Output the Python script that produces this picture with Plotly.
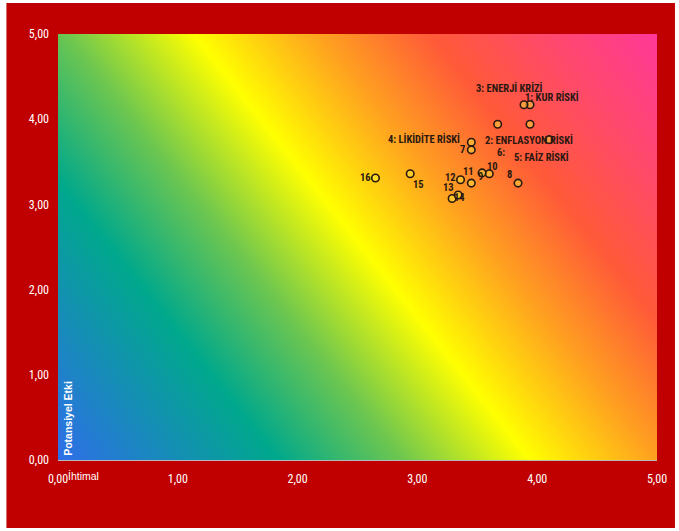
import plotly.graph_objects as go

# ---- data ----
risk_ids = [str(i) for i in range(1, 17)]
label_texts = ["1: KUR RİSKİ", "2: ENFLASYON RİSKİ", "3: ENERJİ KRİZİ", "4: LİKİDİTE RİSKİ",
               "5: FAİZ RİSKİ", "6:", "7", "8", "9", "10", "11", "12", "13", "14", "15", "16"]
ihtimal = [3.94, 4.10, 3.89, 3.45, 3.94, 3.67, 3.45, 3.84, 3.54, 3.60, 3.45, 3.36, 3.29, 3.34, 2.94, 2.65]
etki = [4.17, 3.76, 4.17, 3.73, 3.94, 3.94, 3.64, 3.25, 3.37, 3.36, 3.25, 3.29, 3.07, 3.11, 3.36, 3.31]
tick_values = [0, 1, 2, 3, 4, 5]
tick_labels = ["0,00", "1,00", "2,00", "3,00", "4,00", "5,00"]

# ---- styling ----
label_offsets = [(22, -8), (-20, 0), (-15, -17), (-47, -3), (11, 33), (3, 28), (-9, 0), (-9, -9),
                 (-2, 4), (3, -7), (-3, -12), (-10, -2), (-4, -11), (1, 2), (8, 11), (-10, 0)]
BG_CORNERS = [[0.0, 0.64], [0.36, 1.0]]
BG_SCALE = [[0.0, "#2f6ee8"], [0.236, "#00a88c"], [0.367, "#6cc650"], [0.505, "#ffff00"],
            [0.57, "#ffd010"], [0.64, "#ffa020"], [0.757, "#ff5a38"], [0.87, "#ff4a68"],
            [1.0, "#ff3898"]]
RED = "#c00000"
LBL_COLOR = "#2a1810"
NARROW = "Liberation Sans Narrow, Arial Narrow, Roboto Condensed, DejaVu Sans Condensed, sans-serif"

fig = go.Figure()
fig.add_trace(go.Heatmap(x=[0, 5], y=[0, 5], z=BG_CORNERS, colorscale=BG_SCALE, zmin=0, zmax=1,
                         zsmooth="best", showscale=False, hoverinfo="skip"))
fig.add_trace(go.Scatter(x=ihtimal, y=etki, mode="markers", text=risk_ids,
                         marker=dict(symbol="circle", size=7.5, color="rgba(255,245,60,0.45)",
                                     line=dict(color="#2a1810", width=1.6)),
                         hoverinfo="text"))

for xv, yv, t, (dx, dy) in zip(ihtimal, etki, label_texts, label_offsets):
    fig.add_annotation(x=xv, y=yv, text=t, showarrow=False, xshift=dx, yshift=-dy,
                       xanchor="center", yanchor="middle",
                       font=dict(family=NARROW, size=10.5, color=LBL_COLOR, weight="bold"))

fig.add_shape(type="rect", xref="paper", yref="paper", x0=-0.0861, x1=1.03, y0=-0.1596, y1=1.0728,
              fillcolor=RED, line=dict(width=0), layer="below")

fig.add_annotation(xref="paper", yref="paper", x=0.0175, y=0.005, text="Potansiyel Etki", textangle=-90,
                   showarrow=False, xanchor="center", yanchor="bottom",
                   font=dict(family="Liberation Sans, Arial, sans-serif", size=10.5, color="white", weight="bold"))
fig.add_annotation(xref="paper", yref="paper", x=0.013, y=-0.037, text="İhtimal",
                   showarrow=False, xanchor="left", yanchor="middle",
                   font=dict(family="Liberation Sans, Arial, sans-serif", size=10.5, color="white"))

axis_font = dict(family=NARROW, size=12, color="white")
fig.update_xaxes(range=[0, 5], tickvals=tick_values, ticktext=tick_labels, showgrid=False, zeroline=False,
                 showline=True, linecolor="#b8b8b8", linewidth=1, ticks="", tickfont=axis_font,
                 ticklabelstandoff=8, fixedrange=True)
fig.update_yaxes(range=[0, 5], tickvals=tick_values, ticktext=tick_labels, showgrid=False, zeroline=False,
                 showline=False, ticks="", tickfont=axis_font, ticklabelstandoff=8, fixedrange=True)
fig.update_layout(width=679, height=531, margin=dict(l=58, r=17, t=34, b=71),
                  paper_bgcolor="white", plot_bgcolor="white", showlegend=False)
fig.write_html("out.html", config={"displayModeBar": False},
               post_script="document.body.style.margin='0';document.body.style.overflow='hidden';")
